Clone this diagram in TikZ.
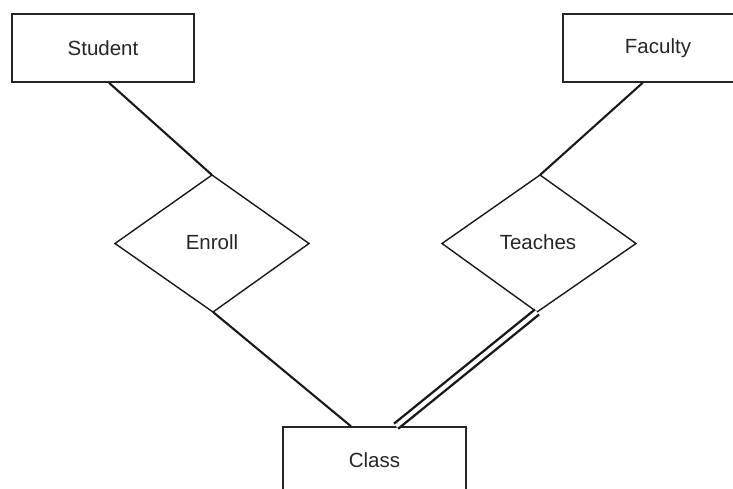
\documentclass[tikz,border=0pt]{standalone}
\usepackage{fontspec}
\setmainfont{Liberation Sans}
\usetikzlibrary{calc}
\begin{document}
\begin{tikzpicture}[x=1pt,y=-1pt,
  entity/.style={draw=black!85,line width=1.6pt,rectangle,minimum width=182pt,minimum height=68pt,inner sep=0pt,font=\fontsize{20.5}{24}\selectfont,text=black!85},
  rel/.style={draw=black!90,line width=1.4pt,line join=miter},
  lbl/.style={font=\fontsize{20.5}{24}\selectfont,text=black!85,inner sep=0pt},
  conn/.style={draw=black!90,line width=2.1pt},
  dconn/.style={draw=black!90,line width=2.4pt,double,double distance=4pt}]
\useasboundingbox (0,0) rectangle (733,488);
\begin{scope}
\clip (0,0) rectangle (733,488);
\node[entity] (S) at (103,48) {Student};
\node[entity,minimum width=190pt] (F) at (658,48) {Faculty};
\node[entity,minimum width=183pt,minimum height=66pt] (C) at (374.5,460) {Class};
% Enroll diamond
\coordinate (et) at (212,175);
\coordinate (el) at (115,243.5);
\coordinate (er) at (309,243.5);
\coordinate (eb) at (213,312);
\draw[rel] (et) -- (er) -- (eb) -- (el) -- cycle;
\node[lbl] (E) at (212,242) {Enroll};
% Teaches diamond
\coordinate (tt) at (540,175);
\coordinate (tl) at (442,243.5);
\coordinate (tr) at (636,243.5);
\coordinate (tb) at (537,312);
\draw[rel] (tt) -- (tr) -- (tb) -- (tl) -- cycle;
\node[lbl] (T) at (538,242) {Teaches};
% connectors
\coordinate (sa) at ($(S.south west)!0.533!(S.south east)$);
\coordinate (fa) at ($(F.south west)!0.42!(F.south east)$);
\coordinate (ca) at ($(C.north west)!0.372!(C.north east)$);
\coordinate (cb) at ($(C.north west)!0.617!(C.north east)$);
\draw[conn] (sa) -- (et);
\draw[conn] (fa) -- (tt);
\draw[conn] (eb) -- (ca);
\draw[dconn] (tb) -- (cb);
\end{scope}
\end{tikzpicture}
\end{document}
